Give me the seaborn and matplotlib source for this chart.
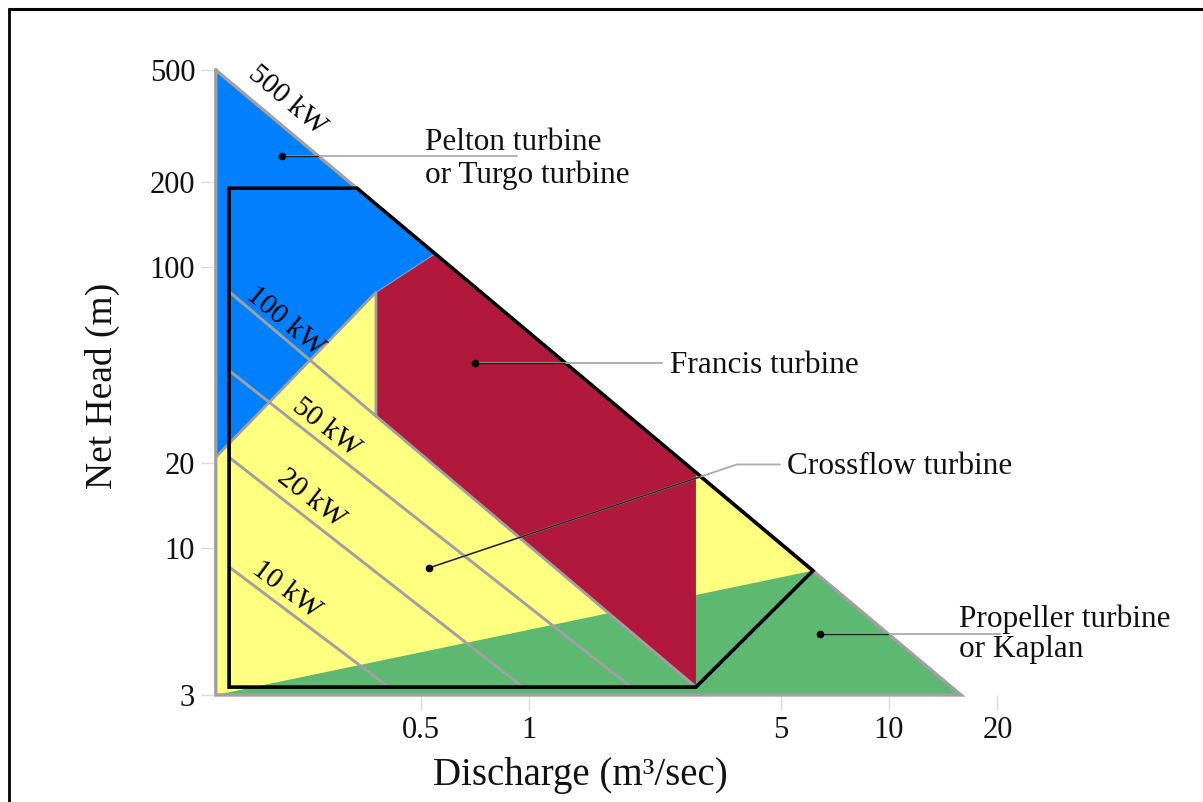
import matplotlib
matplotlib.use("Agg")
import matplotlib.pyplot as plt
from matplotlib.patches import Polygon
from matplotlib.lines import Line2D
import seaborn as sns

# ---- turbine application chart data (discharge m3/s, net head m) ----
envelope_q = [0.135, 0.135, 15.85]
envelope_h = [500, 3, 3]

pelton_q = [0.135, 0.548, 0.376, 0.135]
pelton_h = [500, 111, 81, 21]

francis_q = [0.376, 0.548, 2.91, 2.91, 0.376]
francis_h = [81, 111, 18.5, 3.2, 29.3]

kaplan_q = [0.135, 6.15, 15.85]
kaplan_h = [3, 8.3, 3]

# recommended operating range outline
range_q = [0.147, 0.333, 6.15, 2.91, 0.147, 0.147]
range_h = [190, 190, 8.3, 3.2, 3.2, 190]

# region borders drawn in grey
border_q = [0.135, 0.376, 0.376]
border_h = [21, 81, 29.3]
pelton_francis_q = [0.376, 0.548]
pelton_francis_h = [81, 111]

# constant-power lines
power_names = ["10 kW", "20 kW", "50 kW", "100 kW"]
power_q0 = [0.147, 0.147, 0.147, 0.147]
power_h0 = [8.56, 21.0, 42.7, 81.5]
power_q1 = [0.408, 0.962, 1.92, 2.91]
power_h1 = [3.2, 3.2, 3.2, 3.2]

# power label anchors (the 500 kW label sits on the envelope edge)
plabel_names = ["10 kW", "20 kW", "50 kW", "100 kW", "500 kW"]
plabel_q = [0.212, 0.248, 0.273, 0.210, 0.213]
plabel_h = [7.09, 14.95, 26.8, 63.8, 390]
plabel_rot = [-37, -38, -38, -40, -40]

# turbine labels with leader lines
leaders = {
    "pelton": ([0.206, 0.926], [247, 247]),
    "francis": ([0.708, 2.34], [45.6, 45.6]),
    "crossflow": ([0.528, 3.78, 4.98], [8.49, 19.8, 19.8]),
    "kaplan": ([6.43, 20.3], [4.95, 4.95]),
}
turbine_text = [
    ("Pelton turbine", 0.514, 259),
    ("or Turgo turbine", 0.514, 199),
    ("Francis turbine", 2.46, 42.0),
    ("Crossflow turbine", 5.21, 18.3),
    ("Propeller turbine", 15.65, 5.24),
    ("or Kaplan", 15.65, 4.10),
]

x_ticks = [0.5, 1, 5, 10, 20]
x_ticklabels = ["0.5", "1", "5", "10", "20"]
y_ticks = [3, 10, 20, 100, 200, 500]
y_ticklabels = ["3", "10", "20", "100", "200", "500"]

BLUE = "#0080FF"
RED = "#B2183C"
YELLOW = "#FFFF80"
GREEN = "#5DB872"
GREY = "#A0A0A0"

sns.set_theme(style="white")
plt.rcParams["font.family"] = ["Liberation Serif", "DejaVu Serif"]
plt.rcParams["mathtext.fontset"] = "stix"

W, H = 1203, 802
fig = plt.figure(figsize=(W / 100, H / 100), dpi=100)
ax = fig.add_axes([216 / W, 107 / H, (1005 - 216) / W, 625 / H])
ax.set_xscale("log")
ax.set_yscale("log")
ax.set_xlim(0.1352, 21)
ax.set_ylim(3, 500)
for s in ax.spines.values():
    s.set_visible(False)


def poly(q, h, color, z):
    p = Polygon(list(zip(q, h)), closed=True, facecolor=color,
                edgecolor="none", zorder=z)
    ax.add_patch(p)
    return p


envelope = poly(envelope_q, envelope_h, YELLOW, 1)
poly(kaplan_q, kaplan_h, GREEN, 2)
poly(pelton_q, pelton_h, BLUE, 2)
poly(francis_q, francis_h, RED, 3)

# grey region borders
ax.plot(border_q, border_h, color=GREY, lw=2.0, zorder=4)
ax.plot(pelton_francis_q, pelton_francis_h, color="#7FA0C8", lw=0.8, zorder=4)

# constant-power lines
for q0, h0, q1, h1 in zip(power_q0, power_h0, power_q1, power_h1):
    sns.lineplot(x=[q0, q1], y=[h0, h1], ax=ax, color=GREY, lw=2.1,
                 sort=False, zorder=4)

# envelope outline
ax.plot(envelope_q + envelope_q[:1], envelope_h + envelope_h[:1],
        color=GREY, lw=2.4, zorder=4, clip_on=False, solid_joinstyle="miter")

# recommended range
ax.plot(range_q, range_h, color="black", lw=2.6, zorder=5, clip_on=False,
        solid_joinstyle="miter")

# power labels
for name, q, h, r in zip(plabel_names, plabel_q, plabel_h, plabel_rot):
    ax.text(q, h, name, rotation=r, ha="center", va="center",
            rotation_mode="anchor", fontsize=21, color="black", zorder=8)

# leader lines: grey outside the envelope, dark inside it
for q, h in leaders.values():
    ax.plot(q, h, color="#ABABAB", lw=1.3, zorder=6, clip_on=False)
    dark, = ax.plot(q, h, color="#222222", lw=1.0, zorder=6)
    dark.set_clip_path(envelope)
    ax.plot(q[0], h[0], "o", color="black", ms=4.5, zorder=7)

for txt, q, h in turbine_text:
    ax.text(q, h, txt, ha="left", va="baseline", fontsize=22.5,
            color="#111111", zorder=8, clip_on=False)

ax.set_xticks(x_ticks)
ax.set_xticklabels(x_ticklabels)
ax.set_yticks(y_ticks)
ax.set_yticklabels(y_ticklabels)
ax.minorticks_off()
ax.tick_params(axis="both", which="major", bottom=True, left=True,
               length=11, width=1.0, color="#DCDCDC", labelsize=22,
               labelcolor="#111111", pad=4)
ax.set_xlabel("")
ax.set_ylabel("")

fig.text(102 / W, 1 - 386 / H, "Net Head (m)", rotation=90, ha="center",
         va="center", fontsize=27, color="#111111")
fig.text(580 / W, 1 - 776 / H, "Discharge (m³/sec)", ha="center",
         va="center", fontsize=28, color="#111111")

# page frame (top and left edges)
fig.add_artist(Line2D([9 / W, 9 / W], [0, 1 - 9 / H], transform=fig.transFigure,
                      color="black", lw=2.0))
fig.add_artist(Line2D([9 / W, 1], [1 - 9 / H, 1 - 9 / H],
                      transform=fig.transFigure, color="black", lw=2.2))

fig.savefig("out.png", dpi=100)
